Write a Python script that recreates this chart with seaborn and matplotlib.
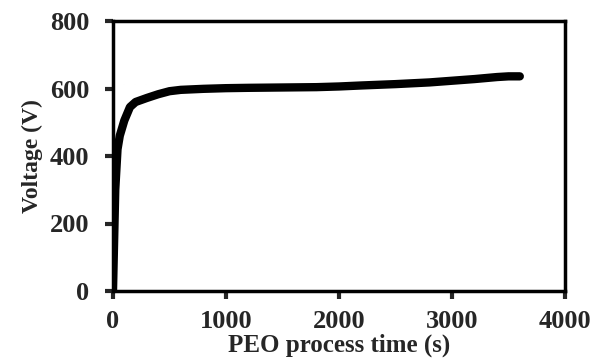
import matplotlib
matplotlib.use("Agg")
import matplotlib.pyplot as plt
import seaborn as sns

# PEO voltage-time curve
time_s = [0, 20, 40, 60, 100, 150, 200, 300, 400, 500, 600, 800, 1000, 1200, 1500,
          1800, 2000, 2200, 2500, 2800, 3000, 3200, 3400, 3500, 3600]
voltage_v = [0, 300, 420, 460, 505, 545, 560, 572, 583, 592, 596, 599, 601, 602, 603,
             604, 606, 609, 613, 618, 623, 628, 634, 636, 636]

x_ticks = [0, 1000, 2000, 3000, 4000]
y_ticks = [0, 200, 400, 600, 800]

sns.set_style("white")
plt.rcParams["font.family"] = ["Liberation Serif", "DejaVu Serif"]
plt.rcParams["font.weight"] = "bold"

fig = plt.figure(figsize=(6.04, 3.63), dpi=100)
ax = fig.add_axes([113 / 604, 1 - 291 / 363, (565 - 113) / 604, (291 - 21) / 363])

sns.lineplot(x=time_s, y=voltage_v, ax=ax, color="black", linewidth=6,
             solid_capstyle="round", solid_joinstyle="round")

ax.set_xlim(0, 4000)
ax.set_ylim(0, 800)
ax.set_xticks(x_ticks)
ax.set_yticks(y_ticks)
ax.tick_params(axis="both", direction="out", length=6, width=3, labelsize=19,
               bottom=True, left=True)
ax.tick_params(axis="x", pad=8)
ax.tick_params(axis="y", pad=11)
for lbl in ax.get_xticklabels() + ax.get_yticklabels():
    lbl.set_fontweight("bold")
for sp in ax.spines.values():
    sp.set_linewidth(2.5)
    sp.set_color("black")

ax.set_xlabel("PEO process time (s)", fontsize=18, fontweight="bold", labelpad=0)
ax.set_ylabel("Voltage (V)", fontsize=17, fontweight="bold", labelpad=5)

fig.savefig("out.png", dpi=100)
